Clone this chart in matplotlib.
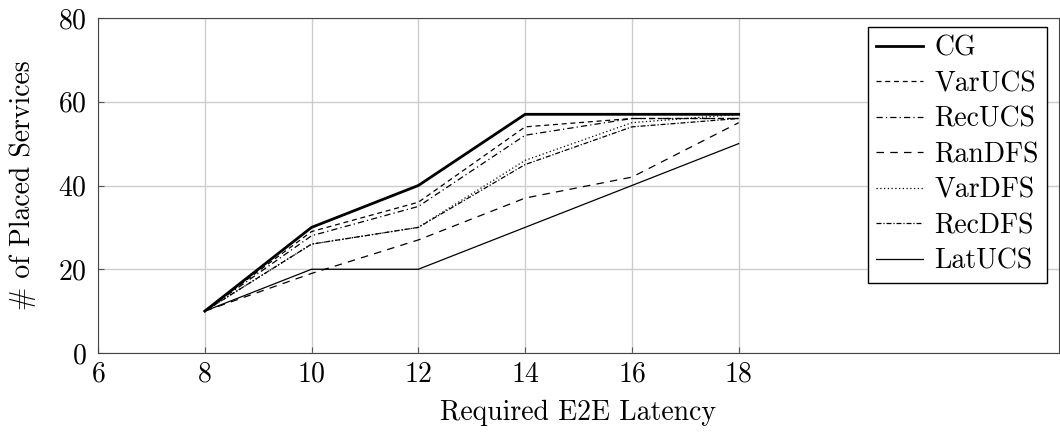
import matplotlib.pyplot as plt

plt.rcParams['font.family'] = ['cmr10', 'DejaVu Serif']
plt.rcParams['mathtext.fontset'] = 'cm'
plt.rcParams['axes.formatter.use_mathtext'] = True

latency = [8, 10, 12, 14, 16, 18]

cg = [10, 30, 40, 57, 57, 57]
var_ucs = [10, 29, 36, 54, 56, 56]
rec_ucs = [10, 28, 35, 52, 56, 56]
ran_dfs = [10, 19, 27, 37, 42, 55]
var_dfs = [10, 26, 30, 46, 55, 57]
rec_dfs = [10, 26, 30, 45, 54, 56]
lat_ucs = [10, 20, 20, 30, 40, 50]

fig, ax = plt.subplots(figsize=(10.6, 4.33), dpi=100)
fig.subplots_adjust(left=98 / 1060, right=1059 / 1060, top=1 - 18 / 433, bottom=1 - 353 / 433)

ax.plot(latency, cg, color='black', lw=2.0, label='CG')
ax.plot(latency, var_ucs, color='black', lw=0.9, dashes=(4, 3), label='VarUCS')
ax.plot(latency, rec_ucs, color='black', lw=0.9, dashes=(5, 2.5, 1, 2.5), label='RecUCS')
ax.plot(latency, ran_dfs, color='black', lw=0.9, dashes=(6, 5), label='RanDFS')
ax.plot(latency, var_dfs, color='black', lw=0.9, dashes=(1, 2), label='VarDFS')
ax.plot(latency, rec_dfs, color='black', lw=0.9, dashes=(4, 1.5, 1, 1.5), label='RecDFS')
ax.plot(latency, lat_ucs, color='black', lw=0.9, label='LatUCS')

ax.set_xlim(6, 24)
ax.set_ylim(0, 80)
ax.set_xticks([6, 8, 10, 12, 14, 16, 18])
ax.set_yticks([0, 20, 40, 60, 80])
ax.grid(True, color='#cccccc', lw=1.0)
ax.set_axisbelow(True)
ax.tick_params(direction='in', labelsize=20, length=4, color='#555555', pad=6)
ax.tick_params(axis='y', pad=8)
for s in ax.spines.values():
    s.set_color('#444444')

ax.set_xlabel('Required E2E Latency', fontsize=20, labelpad=9)
ax.set_ylabel('# of Placed Services', fontsize=20, labelpad=16)

leg = ax.legend(loc='upper right', bbox_to_anchor=(0.9875, 0.973), fontsize=20,
                fancybox=False, framealpha=1, edgecolor='black', handlelength=1.7,
                borderaxespad=0, labelspacing=0.33, handletextpad=0.4, borderpad=0.3)
leg.get_frame().set_linewidth(1.0)

fig.savefig('out.png', dpi=100)
